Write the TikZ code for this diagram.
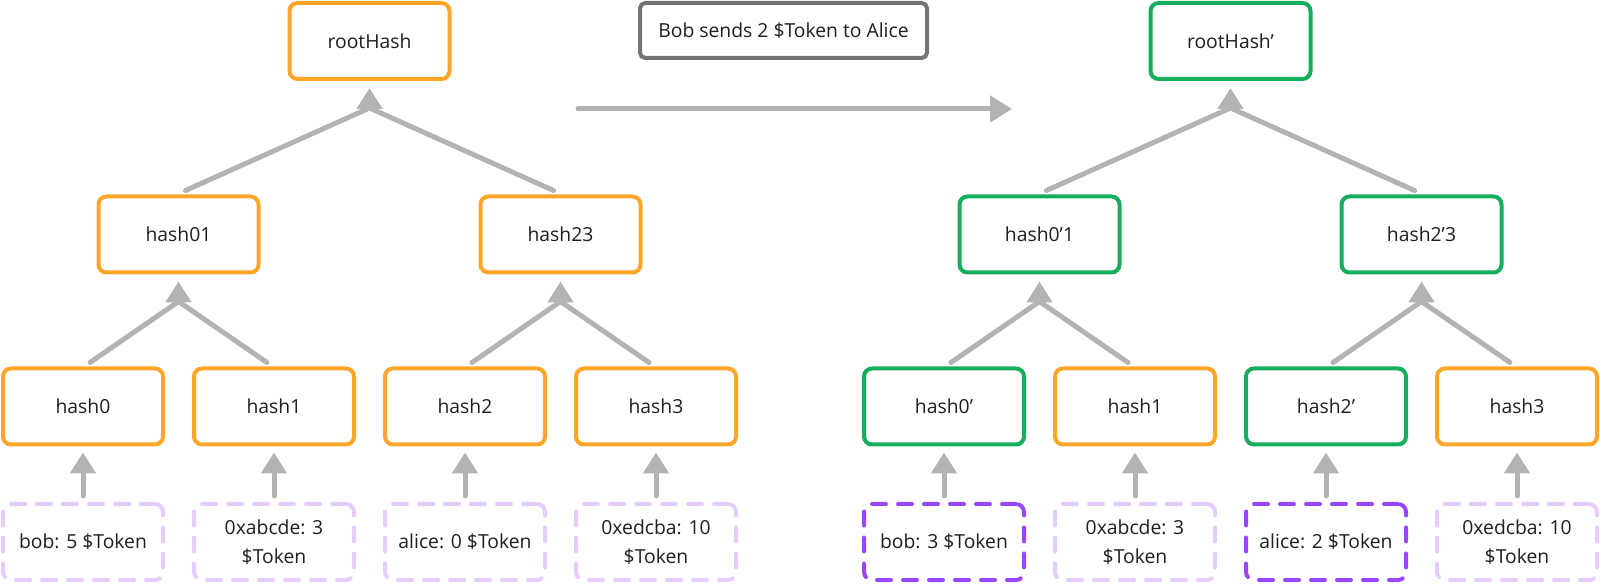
\documentclass[tikz,border=0pt]{standalone}
\usepackage{fontspec}
\setmainfont{Open Sans}
\usepackage{tikz}
\usetikzlibrary{calc}
\usetikzlibrary{arrows.meta}
\definecolor{hashorange}{HTML}{FFA629}
\definecolor{newgreen}{HTML}{14AE5C}
\definecolor{leaflilac}{HTML}{E4CCFF}
\definecolor{leafpurple}{HTML}{9747FF}
\definecolor{linkgray}{HTML}{B3B3B3}
\definecolor{notegray}{HTML}{757575}
\definecolor{inkgray}{HTML}{1E1E1E}

\begin{document}
\begin{tikzpicture}[x=0.75pt,y=-0.75pt,
        font=\fontsize{14.5}{21.75}\selectfont,text=inkgray,
        hashbox/.style={draw=hashorange,line width=3pt,rounded corners=6pt,
            minimum width=120pt,minimum height=57pt,align=center},
        newbox/.style={hashbox,draw=newgreen},
        leafbox/.style={hashbox,draw=leaflilac,line cap=round,
            dash pattern=on 10.5pt off 9pt},
        newleaf/.style={leafbox,draw=leafpurple},
        notebox/.style={draw=notegray,line width=3pt,rounded corners=4pt,
            minimum width=215.25pt,minimum height=41.25pt},
        link/.style={draw=linkgray,line width=3.75pt,line cap=round,line join=round},
        up/.style={link,-{Triangle[length=15.75pt,width=18.75pt]}}]
        \useasboundingbox (0,0) rectangle (1600,584);

        % old tree
        \node[hashbox] (root) at (369.5,41) {rootHash};
        \node[hashbox] (h01) at (178.5,234.5) {hash01};
        \node[hashbox] (h23) at (560.5,234.5) {hash23};
        \node[hashbox] (h0) at (83,406.5) {hash0};
        \node[hashbox] (h1) at (274,406.5) {hash1};
        \node[hashbox] (h2) at (465,406.5) {hash2};
        \node[hashbox] (h3) at (656,406.5) {hash3};
        % old leaves
        \node[leafbox] (leaf0) at (83,542) {bob: 5 \$Token};
        \node[leafbox] (leaf1) at (274,542) {0xabcde: 3\\\$Token};
        \node[leafbox] (leaf2) at (465,542) {alice: 0 \$Token};
        \node[leafbox] (leaf3) at (656,542) {0xedcba: 10\\\$Token};

        % new tree
        \node[newbox] (nroot) at (1230.5,41) {rootHash’};
        \node[newbox] (nh01) at (1039.5,234.5) {hash0’1};
        \node[newbox] (nh23) at (1421.5,234.5) {hash2’3};
        \node[newbox] (nh0) at (944,406.5) {hash0’};
        \node[hashbox] (nh1) at (1135,406.5) {hash1};
        \node[newbox] (nh2) at (1326,406.5) {hash2’};
        \node[hashbox] (nh3) at (1517,406.5) {hash3};
        % new leaves
        \node[newleaf] (nleaf0) at (944,542) {bob: 3 \$Token};
        \node[leafbox] (nleaf1) at (1135,542) {0xabcde: 3\\\$Token};
        \node[newleaf] (nleaf2) at (1326,542) {alice: 2 \$Token};
        \node[leafbox] (nleaf3) at (1517,542) {0xedcba: 10\\\$Token};

        % transaction
        \node[notebox] (note) at (783.5,30.5) {Bob sends 2 \$Token to Alice};
        \coordinate (flowstart) at (578,109);
        \coordinate (flowend) at (1012,109);
        \draw[link,-{Triangle[length=16.5pt,width=19.5pt]}] (flowstart) -- (flowend);

        % joins
        \foreach \p/\a/\b in {root/h01/h23,h01/h0/h1,h23/h2/h3,
                nroot/nh01/nh23,nh01/nh0/nh1,nh23/nh2/nh3}{
            \coordinate (j\p) at ($(\p.south)+(0,27)$);
            \draw[link] ([xshift=5.25pt,yshift=3pt]\a.north) -- (j\p)
                -- ([xshift=-5.25pt,yshift=3pt]\b.north);
            \draw[up,shorten >=5.25pt] (j\p) -- (\p);
        }
        % leaf arrows
        \foreach \l/\h in {leaf0/h0,leaf1/h1,leaf2/h2,leaf3/h3,
                nleaf0/nh0,nleaf1/nh1,nleaf2/nh2,nleaf3/nh3}{
            \draw[up,shorten <=4.5pt,shorten >=4.5pt] (\l) -- (\h);
        }
    \end{tikzpicture}
\end{document}
